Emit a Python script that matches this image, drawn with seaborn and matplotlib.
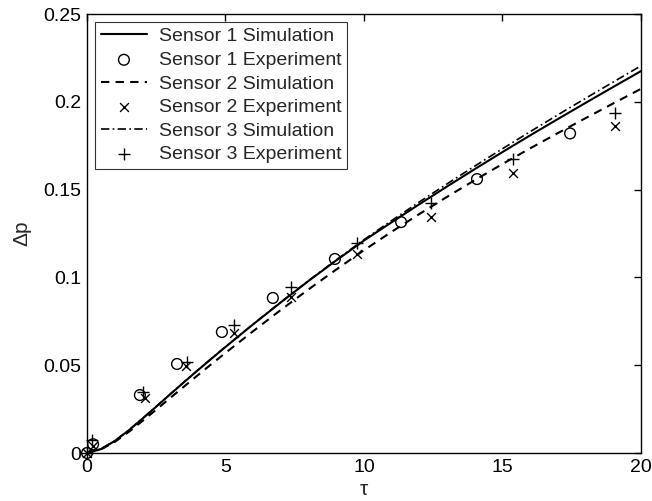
import matplotlib
matplotlib.use('Agg')
import matplotlib.pyplot as plt
import seaborn as sns

# simulation curves (tau, delta p)
tau_sim = [0, 0.5, 1, 1.5, 2, 2.5, 3, 3.5, 4, 4.5, 5, 6, 7, 8, 9, 10,
           11, 12, 13, 14, 15, 16, 17, 18, 19, 20]
sim_s1 = [0, 0.0022, 0.0068, 0.0128, 0.0195, 0.0264, 0.0334, 0.0403, 0.0471, 0.0538,
          0.0604, 0.0733, 0.0858, 0.0980, 0.1097, 0.1210, 0.1314, 0.1417, 0.1518,
          0.1617, 0.1714, 0.1809, 0.1902, 0.1994, 0.2085, 0.2175]
sim_s2 = [0, 0.0020, 0.0063, 0.0119, 0.0182, 0.0247, 0.0313, 0.0378, 0.0443, 0.0507,
          0.0570, 0.0694, 0.0815, 0.0932, 0.1045, 0.1155, 0.1260, 0.1361, 0.1459,
          0.1554, 0.1646, 0.1735, 0.1822, 0.1907, 0.1991, 0.2074]
sim_s3 = [0, 0.0023, 0.0069, 0.0129, 0.0196, 0.0265, 0.0335, 0.0404, 0.0472, 0.0539,
          0.0605, 0.0734, 0.0860, 0.0982, 0.1100, 0.1215, 0.1324, 0.1430, 0.1533,
          0.1634, 0.1733, 0.1830, 0.1926, 0.2020, 0.2113, 0.2205]

# experiments
tau_exp1 = [0, 0.22, 1.91, 3.25, 4.87, 6.71, 8.95, 11.34, 14.08, 17.44]
exp_s1 = [0, 0.005, 0.033, 0.0507, 0.0689, 0.0883, 0.1105, 0.1315, 0.156, 0.182]
tau_exp2 = [0, 0.2, 2.09, 3.57, 5.31, 7.36, 9.75, 12.42, 15.38, 19.06]
exp_s2 = [0, 0.004, 0.0313, 0.0495, 0.0683, 0.0888, 0.1133, 0.1344, 0.1595, 0.1862]
tau_exp3 = [0, 0.18, 2.02, 3.61, 5.31, 7.36, 9.75, 12.42, 15.38, 19.06]
exp_s3 = [0, 0.0074, 0.0347, 0.0518, 0.0729, 0.0945, 0.1196, 0.1424, 0.1674, 0.1936]

x_ticks = [0, 5, 10, 15, 20]
y_ticks = [0, 0.05, 0.1, 0.15, 0.2, 0.25]

sns.set_theme(style='white')
plt.rcParams['font.family'] = ['Liberation Sans', 'DejaVu Sans']

fig = plt.figure(figsize=(6.52, 5.01), dpi=100)
ax = fig.add_axes([0.1334, 0.0958, 0.8497, 0.8762])

lw = 1.5
sns.lineplot(x=tau_sim, y=sim_s1, ax=ax, color='black', lw=lw, linestyle='-',
             label='Sensor 1 Simulation')
sns.scatterplot(x=tau_exp1, y=exp_s1, ax=ax, marker='o', s=60, facecolors='none',
                edgecolor='black', linewidth=1.0, label='Sensor 1 Experiment', clip_on=False, zorder=3)
sns.lineplot(x=tau_sim, y=sim_s2, ax=ax, color='black', lw=lw, linestyle=(0, (4, 3)),
             label='Sensor 2 Simulation')
sns.scatterplot(x=tau_exp2, y=exp_s2, ax=ax, marker='x', s=40, color='black',
                linewidth=1.0, label='Sensor 2 Experiment', clip_on=False, zorder=3)
sns.lineplot(x=tau_sim, y=sim_s3, ax=ax, color='black', lw=1.2, linestyle=(0, (5, 2, 1, 2)),
             label='Sensor 3 Simulation')
sns.scatterplot(x=tau_exp3, y=exp_s3, ax=ax, marker='+', s=80, color='black',
                linewidth=1.0, label='Sensor 3 Experiment', clip_on=False, zorder=3)

ax.set_xlim(0, 20)
ax.set_ylim(0, 0.25)
ax.set_xticks(x_ticks)
ax.set_xticklabels(['%g' % v for v in x_ticks])
ax.set_yticks(y_ticks)
ax.set_yticklabels(['%g' % v for v in y_ticks])
ax.tick_params(direction='in', length=5, width=1.0, top=True, right=True,
               labelsize=14, colors='black', pad=4)
for sp in ax.spines.values():
    sp.set_color('black')
    sp.set_linewidth(1.0)

ax.set_xlabel('τ', fontsize=15, labelpad=3)
ax.set_ylabel('Δp', fontsize=15, labelpad=9)

leg = ax.legend(loc='upper left', fontsize=14, frameon=True, fancybox=False,
                edgecolor='black', handlelength=2.4, labelspacing=0.31,
                borderpad=0.3, handletextpad=0.6, borderaxespad=0.4)
leg.get_frame().set_linewidth(0.8)

fig.savefig('out.png', dpi=100)
